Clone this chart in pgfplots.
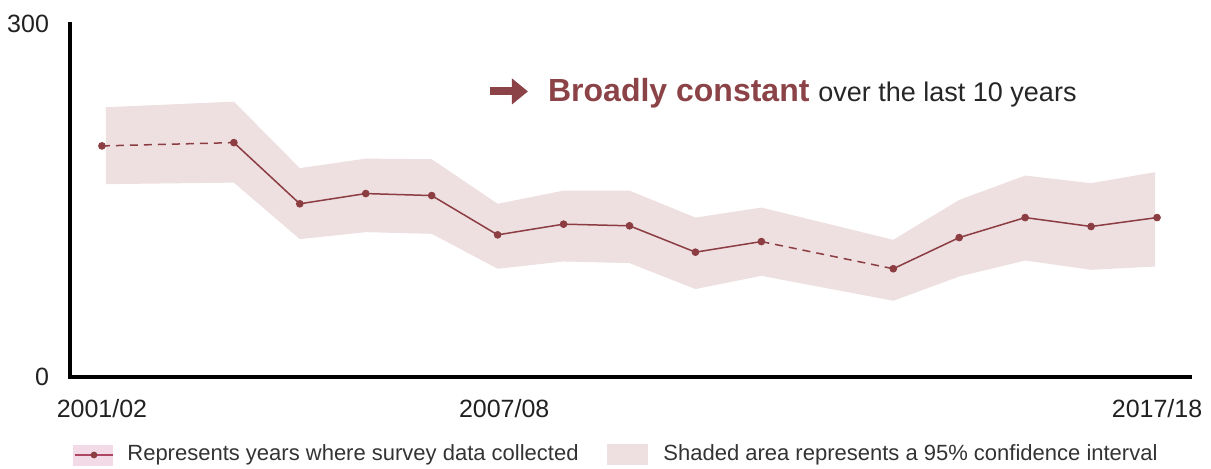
\documentclass[border=0pt]{standalone}
\usepackage{fontspec}
\setmainfont{Liberation Sans}
\usepackage{pgfplots}
\usepackage{pgfplotstable}
\pgfplotsset{compat=1.18}
\usepgfplotslibrary{fillbetween}
\usetikzlibrary{arrows.meta}
\definecolor{linecol}{RGB}{139,61,66}
\definecolor{bandcol}{RGB}{238,223,224}
\definecolor{annot}{RGB}{139,67,71}
\definecolor{legbox}{RGB}{242,218,230}
\definecolor{leglinecol}{RGB}{175,70,100}

% all surveyed points
\pgfplotstableread{
x v
0 196.4
2 199.2
3 147.2
4 155.9
5 154.2
6 120.8
7 129.9
8 128.5
9 106.1
10 115.1
12 92.0
13 118.5
14 135.5
15 127.9
16 135.5
}\pts
\pgfplotstableread{
x v
0 196.4
2 199.2
}\dashA
\pgfplotstableread{
x v
2 199.2
3 147.2
4 155.9
5 154.2
6 120.8
7 129.9
8 128.5
9 106.1
10 115.1
}\solidA
\pgfplotstableread{
x v
10 115.1
12 92.0
}\dashB
\pgfplotstableread{
x v
12 92.0
13 118.5
14 135.5
15 127.9
16 135.5
}\solidB
% confidence band
\pgfplotstableread{
x u l
0.06 229.3 163.9
2 234.0 165.2
3 177.5 117.2
4 185.6 123.1
5 185.1 121.7
6 147.2 92.0
7 158.4 98.2
8 158.4 96.8
9 135.5 74.7
10 144.0 86.0
12 116.6 64.8
13 150.5 85.4
14 171.2 99.0
15 164.7 91.1
15.97 174.1 93.9
}\band

\begin{document}
\begin{tikzpicture}
\begin{axis}[
  at={(0,0)}, anchor=south west,
  scale only axis, width=560pt, height=176.5pt,
  xmin=-0.485, xmax=16.5, ymin=0, ymax=300,
  axis lines=left,
  axis line style={line width=2pt, -, line cap=rect},
  xtick={0,6.1,16}, xticklabels={2001/02,2007/08,2017/18},
  ytick={0,300},
  major tick length=0pt,
  tick label style={font=\fontsize{12.5}{15}\selectfont, text=black!87},
  xticklabel style={anchor=base, yshift=-20pt},
  yticklabel style={anchor=east, xshift=-7pt},
  /pgf/number format/assume math mode=true,
  clip=false,
]
\addplot[name path=up, draw=none, forget plot] table[x=x,y=u] {\band};
\addplot[name path=lo, draw=none, forget plot] table[x=x,y=l] {\band};
\addplot[bandcol, draw=none, forget plot] fill between[of=up and lo];

\addplot[linecol, line width=0.75pt, dash pattern=on 4pt off 3pt, forget plot] table[x=x,y=v] {\dashA};
\addplot[linecol, line width=0.75pt, forget plot] table[x=x,y=v] {\solidA};
\addplot[linecol, line width=0.75pt, dash pattern=on 4pt off 3pt, forget plot] table[x=x,y=v] {\dashB};
\addplot[linecol, line width=0.75pt, forget plot] table[x=x,y=v] {\solidB};
\addplot[only marks, mark=*, mark size=1.7pt, color=linecol, forget plot] table[x=x,y=v] {\pts};

\draw[annot, line width=4pt, -{Triangle[length=8pt,width=12.5pt]}] (axis cs:5.88,242.7) -- (axis cs:6.46,242.7);
\node[anchor=base west, inner sep=0pt] at (axis cs:6.76,234) {\fontsize{16}{19}\selectfont\bfseries\color{annot}Broadly constant \fontsize{13.5}{16}\selectfont\mdseries\color{black!85}over the last 10 years};
\end{axis}
% legend
\fill[legbox] (1.5pt,-44.5pt) rectangle (21.5pt,-34pt);
\draw[leglinecol, line width=0.9pt] (2.5pt,-39pt) -- (21.5pt,-39pt);
\fill[linecol] (12pt,-39pt) circle (1.7pt);
\node[anchor=west, inner sep=0pt, font=\fontsize{11}{13}\selectfont, text=black!80] at (28.5pt,-39pt) {Represents years where survey data collected};
\fill[bandcol] (268.5pt,-44pt) rectangle (289pt,-33.5pt);
\node[anchor=west, inner sep=0pt, font=\fontsize{11}{13}\selectfont, text=black!80] at (296.5pt,-39pt) {Shaded area represents a 95\% confidence interval};
\pgfresetboundingbox
\useasboundingbox (-35pt,-45.5pt) rectangle (570.5pt,188.5pt);
\end{tikzpicture}
\end{document}
